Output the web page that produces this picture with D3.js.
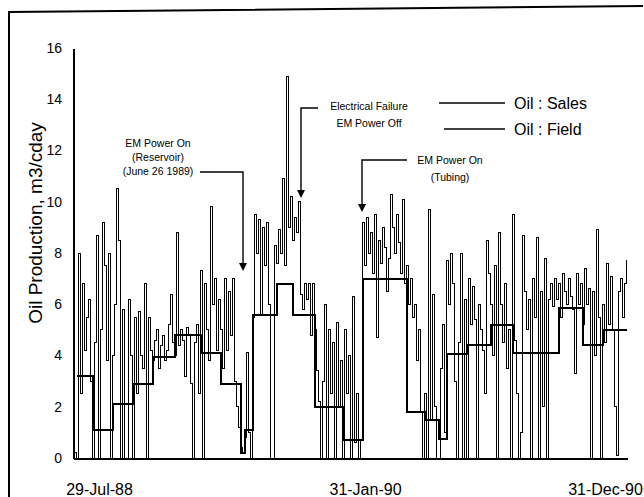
<!DOCTYPE html>
<html>
<head>
<meta charset="utf-8">
<script src="https://cdn.jsdelivr.net/npm/d3@7"></script>
<style>
body { margin: 0; background: #fff; }
svg { display: block; font-family: "Liberation Sans", Arial, sans-serif; }
</style>
</head>
<body>
<div id="chart"></div>
<script>
// field readings (m3/cday), one per reading along the axis
var fieldOil = [
  9.0, 0.2, 0.0, 8.0, 2.5, 6.8, 4.2, 5.5, 6.2, 3.0,
  0.0, 4.5, 8.7, 0.0, 5.0, 9.2, 7.5, 3.8, 8.0, 0.0,
  4.0, 6.0, 10.5, 8.5, 0.0, 5.8, 0.0, 0.0, 6.2, 4.0,
  0.0, 5.5, 2.5, 5.7, 4.0, 3.5, 6.8, 0.0, 5.5, 4.2,
  3.8, 4.6, 5.0, 3.5, 4.4, 4.8, 3.8, 4.2, 5.2, 6.4,
  4.5, 4.0, 8.8, 4.4, 5.0, 4.6, 3.2, 5.1, 4.8, 2.9,
  0.0, 4.5, 5.2, 2.5, 7.3, 0.0, 6.8, 5.0, 3.8, 9.8,
  6.0, 7.0, 4.2, 6.2, 5.0, 3.5, 7.0, 4.2, 6.5, 4.8,
  7.0, 3.0, 2.0, 1.2, 0.4, 0.2, 0.8, 4.1, 1.0, 0.0,
  5.5, 9.5, 8.0, 9.3, 5.6, 9.0, 7.5, 9.2, 6.0, 0.0,
  0.0, 8.3, 7.6, 8.9, 8.0, 10.9, 7.5, 14.9, 9.0, 10.2,
  8.5, 9.4, 8.8, 10.0, 6.4, 5.8, 6.8, 6.2, 6.8, 4.8,
  6.8, 5.0, 3.4, 2.2, 0.0, 3.0, 6.0, 0.0, 5.0, 2.5,
  4.5, 0.0, 5.3, 2.0, 3.8, 0.0, 5.0, 2.5, 4.0, 0.0,
  6.3, 0.6, 2.5, 0.0, 0.7, 9.2, 7.5, 9.4, 8.0, 8.8,
  7.2, 9.5, 4.7, 8.5, 7.6, 9.0, 8.2, 6.5, 7.8, 10.3,
  9.0, 8.0, 9.5, 8.4, 7.2, 10.1, 6.8, 7.5, 6.0, 7.0,
  5.5, 6.0, 3.8, 5.0, 1.8, 0.0, 2.5, 0.0, 9.7, 1.5,
  6.4, 2.0, 0.0, 0.0, 3.5, 5.2, 1.0, 7.7, 6.0, 8.0,
  6.8, 3.0, 0.0, 4.5, 8.0, 0.0, 6.2, 0.0, 7.0, 5.2,
  6.7, 5.4, 0.0, 6.0, 5.0, 4.2, 2.5, 8.5, 7.2, 6.0,
  4.0, 7.5, 0.0, 8.8, 6.0, 4.5, 6.8, 3.5, 5.0, 0.0,
  9.5, 4.6, 2.5, 0.0, 1.0, 8.7, 6.5, 5.0, 6.2, 0.0,
  7.0, 5.5, 8.6, 0.0, 6.5, 2.0, 7.8, 0.0, 6.2, 6.8,
  5.9, 7.0, 6.2, 6.8, 5.5, 7.2, 6.5, 6.0, 7.0, 6.3,
  5.8, 3.3, 7.2, 6.0, 6.8, 5.2, 7.4, 6.0, 6.6, 0.0,
  6.5, 4.0, 8.9, 5.5, 0.0, 6.0, 4.5, 7.6, 5.2, 7.1,
  5.0, 2.0, 0.1, 6.5, 7.0, 5.5, 6.8, 7.7
];

// sales (m3/cday): reading index where each period starts, and its value
var salesStart = [2, 10, 20, 30, 40, 51, 64, 74, 84, 86, 90, 102, 110, 121, 135, 145, 167, 176, 183, 187, 197, 209, 220, 243, 255, 265];
var salesValue = [3.2, 1.1, 2.1, 2.9, 3.95, 4.8, 4.1, 2.9, 0.2, 1.1, 5.6, 6.8, 5.6, 2.0, 0.7, 7.0, 1.8, 1.5, 0.75, 4.05, 4.4, 5.2, 4.1, 5.85, 4.4, 5.0];

var yTicks = [0, 2, 4, 6, 8, 10, 12, 14, 16];
var xTickIdx = [13, 146, 266];
var xTickLabels = ["29-Jul-88", "31-Jan-90", "31-Dec-90"];

// set the dimensions and margins of the graph
var margin = {top: 48, right: 17, bottom: 39, left: 73},
    width = 644 - margin.left - margin.right,
    height = 497 - margin.top - margin.bottom;

var root = d3.select("#chart")
  .append("svg")
    .attr("width", 644)
    .attr("height", 497);

// scanned page frame
root.append("path")
    .attr("d", "M9,497V12L643,6")
    .attr("fill", "none")
    .attr("stroke", "#000")
    .attr("stroke-width", 2);

var svg = root.append("g")
    .attr("transform", "translate(" + margin.left + "," + margin.top + ")");

var x = d3.scaleLinear()
    .domain([0, fieldOil.length - 1])
    .range([0, width]);

var y = d3.scaleLinear()
    .domain([0, 16])
    .range([height, 0]);

// y axis
var yAxis = svg.append("g")
    .call(d3.axisLeft(y).tickValues(yTicks).tickSize(0).tickPadding(11));
yAxis.select(".domain").attr("stroke-width", 2).attr("shape-rendering", "crispEdges");
yAxis.selectAll("text").style("font-size", "14px").attr("fill", "#000");

// x axis
var xAxis = svg.append("g")
    .attr("transform", "translate(0," + height + ")")
    .call(d3.axisBottom(x).tickValues(xTickIdx)
      .tickFormat(function(d, i) { return xTickLabels[i]; })
      .tickSize(0).tickPadding(26));
xAxis.select(".domain").attr("stroke-width", 2).attr("shape-rendering", "crispEdges");
xAxis.selectAll("text").style("font-size", "16px").attr("fill", "#000");

// y title
root.append("text")
    .attr("transform", "translate(35,223) rotate(-90)")
    .attr("text-anchor", "middle")
    .attr("dy", "0.35em")
    .style("font-size", "19px")
    .text("Oil Production, m3/cday");

// field line (dense daily record, drawn as steps so it reads as spikes)
var fieldLine = d3.line()
    .curve(d3.curveStep)
    .x(function(d, i) { return x(i); })
    .y(function(d) { return y(d); });

svg.append("path")
    .datum(fieldOil)
    .attr("fill", "none")
    .attr("stroke", "#000")
    .attr("stroke-width", 1)
    .attr("shape-rendering", "crispEdges")
    .attr("d", fieldLine);

// sales steps
var salesPts = salesStart.map(function(s, k) { return [s, salesValue[k]]; });
salesPts.push([fieldOil.length - 1, salesValue[salesValue.length - 1]]);

var salesLine = d3.line()
    .curve(d3.curveStepAfter)
    .x(function(d) { return x(d[0]); })
    .y(function(d) { return y(d[1]); });

svg.append("path")
    .datum(salesPts)
    .attr("fill", "none")
    .attr("stroke", "#000")
    .attr("stroke-width", 2)
    .attr("shape-rendering", "crispEdges")
    .attr("d", salesLine);

// event notes: text centre / first baseline, elbow and arrow tip in data units
var notes = [
  {lines: ["EM Power On", "(Reservoir)", "(June 26  1989)"], tx: 42.5, ty: 12.14, lh: 14,
   ex: 63.5, ax: 85, top: 11.16, tip: 7.3},
  {lines: ["Electrical Failure", "EM Power Off"], tx: 148, ty: 13.58, lh: 17,
   ex: 122.5, ax: 114, top: 13.66, tip: 10.15},
  {lines: ["EM Power On", "(Tubing)"], tx: 188.5, ty: 11.47, lh: 17,
   ex: 167, ax: 144.5, top: 11.63, tip: 9.6}
];

notes.forEach(function(n) {
  var t = svg.append("text")
      .attr("text-anchor", "middle")
      .style("font-size", "10.5px");
  n.lines.forEach(function(l, i) {
    t.append("tspan")
        .attr("x", x(n.tx))
        .attr("y", y(n.ty) + i * n.lh)
        .text(l);
  });
  svg.append("path")
      .attr("d", "M" + x(n.ex) + "," + y(n.top) + "H" + x(n.ax) + "V" + (y(n.tip) - 6))
      .attr("fill", "none")
      .attr("stroke", "#000")
      .attr("stroke-width", 1.4);
  svg.append("path")
      .attr("d", "M" + (x(n.ax) - 4) + "," + (y(n.tip) - 8) + "H" + (x(n.ax) + 4) + "L" + x(n.ax) + "," + y(n.tip) + "Z")
      .attr("fill", "#000");
});

// legend
var legend = root.append("g");
var legendItems = [{name: "Oil : Sales", x0: 439, y: 103}, {name: "Oil : Field", x0: 444, y: 129}];
legend.selectAll("line")
  .data(legendItems)
  .enter().append("line")
    .attr("x1", function(d) { return d.x0; })
    .attr("x2", 505)
    .attr("y1", function(d) { return d.y; })
    .attr("y2", function(d) { return d.y; })
    .attr("stroke", "#000")
    .attr("stroke-width", 1.5);
legend.selectAll("text")
  .data(legendItems)
  .enter().append("text")
    .attr("x", 514)
    .attr("y", function(d) { return d.y; })
    .attr("dy", "0.36em")
    .style("font-size", "16px")
    .text(function(d) { return d.name; });
</script>
</body>
</html>
